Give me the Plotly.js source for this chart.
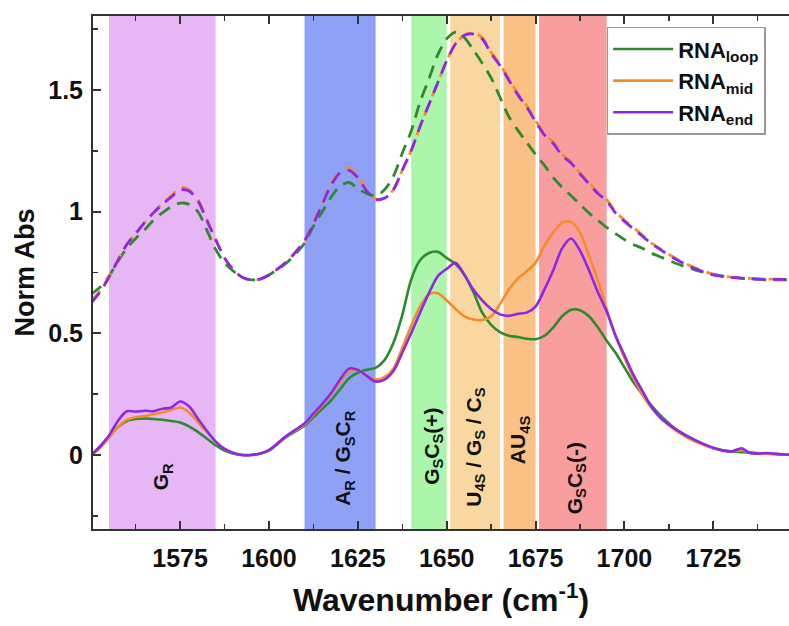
<!DOCTYPE html>
<html>
<head>
<meta charset="utf-8">
<script src="https://cdn.plot.ly/plotly-3.0.1.min.js"></script>
<style>html,body{margin:0;padding:0;background:#fff;}#chart{width:789px;height:626px;}</style>
</head>
<body>
<div id="chart"></div>
<script>
// Wavenumber grid (cm^-1)
const wavenumber = [1550,1552.5,1555,1557.5,1560,1562.5,1565,1567.5,1570,1572.5,1575,1577.5,1580,1582.5,1585,1587.5,1590,1592.5,1595,1597.5,1600,1605,1610,1612.5,1615,1617.5,1620,1622.5,1625,1627.5,1630,1632.5,1635,1637.5,1640,1642.5,1645,1647.5,1650,1652.5,1655,1657.5,1660,1662.5,1665,1667.5,1670,1672.5,1675,1677.5,1680,1682.5,1685,1687.5,1690,1692.5,1695,1697.5,1700,1702.5,1705,1707.5,1710,1715,1720,1725,1730,1733,1735,1737.5,1740,1745,1750];

// Solid curves
const loopSolid = [0,0.035,0.075,0.115,0.14,0.148,0.15,0.148,0.145,0.14,0.134,0.118,0.095,0.068,0.04,0.018,0.005,0,0,0.005,0.018,0.075,0.12,0.155,0.19,0.225,0.27,0.315,0.338,0.35,0.358,0.39,0.46,0.575,0.72,0.8,0.83,0.835,0.81,0.785,0.74,0.67,0.585,0.535,0.505,0.49,0.485,0.478,0.476,0.49,0.525,0.57,0.597,0.595,0.57,0.525,0.47,0.42,0.36,0.3,0.25,0.205,0.165,0.1,0.06,0.028,0.015,0.012,0.01,0.005,0.005,0.002,0];
const midSolid = [0,0.03,0.07,0.115,0.145,0.155,0.16,0.168,0.175,0.185,0.195,0.175,0.135,0.095,0.055,0.025,0.008,0,0,0.006,0.02,0.078,0.125,0.165,0.205,0.25,0.3,0.345,0.35,0.325,0.31,0.32,0.355,0.44,0.53,0.61,0.66,0.665,0.635,0.6,0.57,0.557,0.555,0.57,0.62,0.68,0.725,0.755,0.79,0.86,0.915,0.955,0.958,0.915,0.82,0.72,0.6,0.49,0.4,0.32,0.25,0.195,0.155,0.095,0.055,0.028,0.015,0.02,0.012,0.008,0.005,0.003,0];
const endSolid = [0,0.035,0.08,0.14,0.18,0.178,0.182,0.18,0.19,0.195,0.22,0.2,0.15,0.1,0.055,0.025,0.008,0,0,0.006,0.02,0.08,0.13,0.17,0.21,0.255,0.31,0.355,0.35,0.325,0.302,0.31,0.345,0.42,0.5,0.585,0.665,0.735,0.765,0.79,0.74,0.68,0.635,0.6,0.578,0.572,0.58,0.585,0.61,0.68,0.76,0.85,0.89,0.84,0.76,0.67,0.59,0.49,0.41,0.33,0.265,0.2,0.155,0.1,0.06,0.03,0.014,0.028,0.01,0.006,0.008,0.002,0];

// Dashed curves
const loopDash = [0.66,0.69,0.735,0.795,0.85,0.89,0.925,0.965,0.995,1.02,1.035,1.03,1.0,0.925,0.845,0.79,0.755,0.73,0.72,0.723,0.74,0.79,0.87,0.94,1.0,1.06,1.105,1.12,1.095,1.075,1.065,1.09,1.145,1.24,1.33,1.45,1.545,1.645,1.71,1.738,1.715,1.665,1.61,1.55,1.47,1.39,1.335,1.285,1.235,1.19,1.14,1.1,1.065,1.03,0.995,0.965,0.935,0.91,0.885,0.865,0.85,0.83,0.815,0.785,0.76,0.742,0.73,0.726,0.724,0.722,0.72,0.72,0.72];
const midDash = [0.635,0.675,0.735,0.8,0.865,0.91,0.955,0.995,1.035,1.065,1.1,1.09,1.05,0.97,0.885,0.81,0.76,0.73,0.72,0.723,0.74,0.795,0.88,0.955,1.035,1.115,1.165,1.18,1.145,1.09,1.052,1.057,1.09,1.17,1.25,1.35,1.44,1.53,1.62,1.69,1.725,1.735,1.715,1.655,1.605,1.545,1.485,1.435,1.375,1.32,1.285,1.235,1.205,1.16,1.12,1.08,1.05,1.0,0.965,0.935,0.905,0.872,0.848,0.803,0.768,0.743,0.731,0.728,0.726,0.724,0.723,0.723,0.723];
const endDash = [0.625,0.67,0.73,0.8,0.865,0.91,0.955,0.995,1.03,1.06,1.09,1.085,1.045,0.965,0.885,0.81,0.76,0.73,0.72,0.723,0.74,0.795,0.88,0.95,1.03,1.11,1.16,1.17,1.14,1.085,1.05,1.055,1.09,1.17,1.25,1.35,1.44,1.53,1.62,1.69,1.725,1.73,1.71,1.65,1.6,1.54,1.48,1.43,1.37,1.315,1.28,1.23,1.2,1.155,1.115,1.075,1.045,0.995,0.96,0.93,0.9,0.87,0.845,0.8,0.765,0.74,0.73,0.727,0.725,0.723,0.722,0.722,0.722];

// Assignment bands
const bandStart = [1555,1610,1640,1651,1666,1676];
const bandEnd   = [1585,1630,1650,1665,1675,1695];
const bandColor = ['rgb(231,183,245)','rgb(143,161,247)','rgb(172,246,172)','rgb(248,216,160)','rgb(250,193,134)','rgb(249,158,158)'];
const bandLabel = ['G<sub>R</sub>','A<sub>R</sub> / G<sub>S</sub>C<sub>R</sub>','G<sub>S</sub>C<sub>S</sub>(+)','U<sub>4S</sub> / G<sub>S</sub> / C<sub>S</sub>','AU<sub>4S</sub>','G<sub>S</sub>C<sub>S</sub>(-)'];
const labelX = [1570,1621.3,1646.1,1657.9,1670.4,1686.4];
const labelY = [-0.09,-0.013,0.037,0.033,0.062,-0.095];

const seriesNames = ['<b>RNA<sub>loop</sub></b>','<b>RNA<sub>mid</sub></b>','<b>RNA<sub>end</sub></b>'];
const colors = ['rgb(46,138,46)','rgb(245,140,40)','rgb(140,40,232)'];

const FONT = 'Liberation Sans, Arial, sans-serif';

const traces = [];
[loopDash, midDash, endDash].forEach((ys, i) => {
  traces.push({x: wavenumber, y: ys, mode: 'lines', showlegend: false,
    line: {color: colors[i], width: 2.8, dash: '13px,8px', shape: 'spline', smoothing: 0.8}, hoverinfo: 'skip'});
});
[loopSolid, midSolid, endSolid].forEach((ys, i) => {
  traces.push({x: wavenumber, y: ys, mode: 'lines', name: seriesNames[i],
    line: {color: colors[i], width: 2.6, shape: 'spline', smoothing: 0.8}});
});

const shapes = bandStart.map((s, i) => ({type: 'rect', xref: 'x', yref: 'paper', x0: s, x1: bandEnd[i], y0: 0, y1: 1,
  fillcolor: bandColor[i], line: {width: 0}, layer: 'below'}));

const annotations = bandLabel.map((t, i) => ({x: labelX[i], y: labelY[i], xref: 'x', yref: 'y', text: '<b>' + t + '</b>',
  textangle: -90, showarrow: false, font: {family: FONT, size: 21, color: '#111'}}));

const layout = {
  width: 789, height: 626,
  margin: {l: 93, r: 0, t: 16, b: 97},
  paper_bgcolor: '#fff', plot_bgcolor: '#fff',
  showlegend: true,
  legend: {x: 0.738, y: 0.979, xanchor: 'left', yanchor: 'top', bgcolor: '#fff', bordercolor: '#999', borderwidth: 1.5,
    font: {family: FONT, size: 22, color: '#111'}, tracegroupgap: 0, itemwidth: 60},
  xaxis: {range: [1550.5, 1746.3], ticks: 'inside', ticklen: 8, tickwidth: 2,
    tickcolor: '#333', showline: true, linecolor: '#333', linewidth: 2, mirror: 'ticks', showgrid: false, zeroline: false,
    tickmode: 'array', tickvals: [1575,1600,1625,1650,1675,1700,1725],
    minor: {ticks: 'inside', ticklen: 5, tickwidth: 1.5, tickcolor: '#333', tickvals: [1562.5,1587.5,1612.5,1637.5,1662.5,1687.5,1712.5,1737.5], showgrid: false},
    tickfont: {family: FONT, size: 25, color: '#111', weight: 'bold'}, ticklabelstandoff: 6,
    title: {text: '<b>Wavenumber (cm<sup>-1</sup>)</b>', font: {family: FONT, size: 32, color: '#111'}, standoff: 18}},
  yaxis: {range: [-0.304, 1.804], tickmode: 'array', tickvals: [0, 0.5, 1, 1.5], ticktext: ['0','0.5','1','1.5'],
    ticks: 'inside', ticklen: 8, tickwidth: 2, tickcolor: '#333', showline: true, linecolor: '#333', linewidth: 2,
    showgrid: false, zeroline: false,
    minor: {ticks: 'inside', ticklen: 5, tickwidth: 1.5, tickcolor: '#333', tickvals: [-0.25, 0.25, 0.75, 1.25, 1.75], showgrid: false},
    tickfont: {family: FONT, size: 25, color: '#111', weight: 'bold'}, ticklabelstandoff: 3,
    title: {text: '<b>Norm Abs</b>', font: {family: FONT, size: 27, color: '#111'}, standoff: 6}},
  shapes: shapes,
  annotations: annotations
};

Plotly.newPlot('chart', traces, layout, {displayModeBar: false, staticPlot: true});
</script>
</body>
</html>
